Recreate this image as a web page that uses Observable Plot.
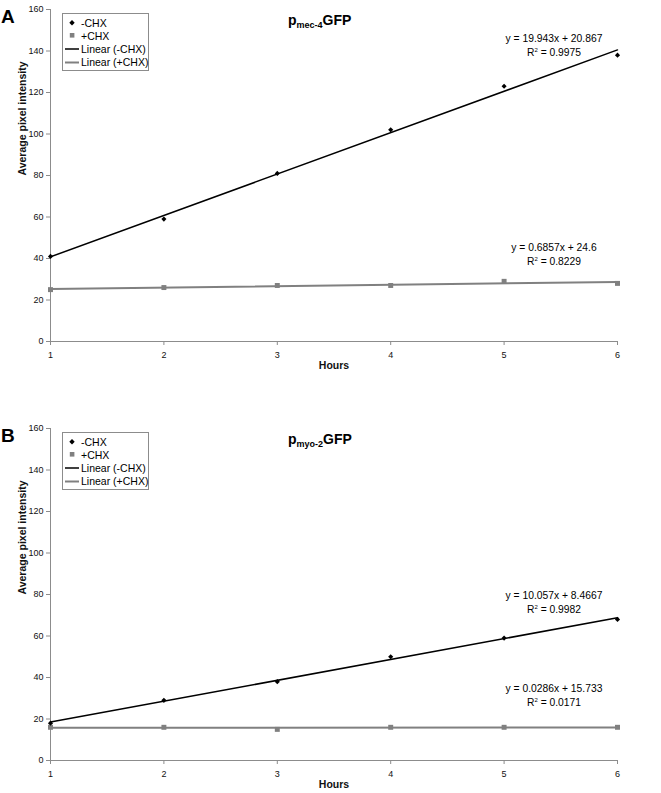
<!DOCTYPE html>
<html><head><meta charset="utf-8">
<script src="https://cdn.jsdelivr.net/npm/d3@7"></script>
<script src="https://cdn.jsdelivr.net/npm/@observablehq/plot@0.6"></script>
<style>
body{margin:0;background:#fff}
#wrap{position:relative;width:661px;height:793px;background:#fff;font-family:'Liberation Sans',Arial,sans-serif}
.abs{position:absolute;left:0}
</style>
</head><body><div id="wrap"></div>
<script>
// ---- data ----
const hours = [1, 2, 3, 4, 5, 6];
const mec4Minus = [41, 59, 81, 102, 123, 138];
const mec4Plus = [25, 26, 27, 27, 29, 28];
const myo2Minus = [18, 29, 38, 50, 59, 68];
const myo2Plus = [16, 16, 15, 16, 16, 16];
const yTicks = [0, 20, 40, 60, 80, 100, 120, 140, 160];
const legendLabels = ["-CHX", "+CHX", "Linear (-CHX)", "Linear (+CHX)"];
const panelLetters = ["A", "B"];
const titleSubs = ["mec-4", "myo-2"];
const eqMinus = ["y = 19.943x + 20.867", "y = 10.057x + 8.4667"];
const r2Minus = ["0.9975", "0.9982"];
const eqPlus = ["y = 0.6857x + 24.6", "y = 0.0286x + 15.733"];
const r2Plus = ["0.8229", "0.0171"];

const FONT = "'Liberation Sans', Arial, sans-serif";
const GRAY = "#808080";
const AXIS = "#8c8c8c";

function chart(minus, plus, height, marginBottom) {
  const rm = hours.map((h, i) => ({hour: h, value: minus[i]}));
  const rp = hours.map((h, i) => ({hour: h, value: plus[i]}));
  return Plot.plot({
    width: 661, height,
    marginLeft: 50, marginRight: 44, marginTop: 9, marginBottom,
    x: {domain: [1, 6]},
    y: {domain: [0, 160]},
    style: {fontFamily: FONT, fontSize: "9px", background: "transparent", overflow: "visible", color: "#111"},
    marks: [
      Plot.ruleY([0], {stroke: AXIS}),
      Plot.ruleX([1], {stroke: AXIS}),
      Plot.axisY({ticks: yTicks, tickSize: 4, tickPadding: 3, stroke: AXIS, fill: "#111", label: null, fontSize: 9}),
      Plot.axisX({ticks: hours, tickSize: 4, tickPadding: 6, stroke: AXIS, fill: "#111", label: null, fontSize: 9, tickFormat: d => String(d)}),
      Plot.linearRegressionY(rp, {x: "hour", y: "value", stroke: GRAY, strokeWidth: 2, ci: 0}),
      Plot.linearRegressionY(rm, {x: "hour", y: "value", stroke: "#000", strokeWidth: 1.5, ci: 0}),
      Plot.dot(rp, {x: "hour", y: "value", symbol: "square", r: 2.8, fill: GRAY, stroke: "none"}),
      Plot.dot(rm, {x: "hour", y: "value", symbol: "diamond2", r: 2.3, fill: "#000", stroke: "none"}),
      Plot.text(["Average pixel intensity"], {frameAnchor: "left", dx: -28, rotate: -90, fontWeight: "bold", fontSize: 10.5}),
      Plot.text(["Hours"], {frameAnchor: "bottom", dy: 27, fontWeight: "bold", fontSize: 10.5})
    ]
  });
}

const wrap = document.getElementById("wrap");
const tops = [0, 419];
const heights = [380, 374];
const mbs = [39, 33];
const series = [[mec4Minus, mec4Plus], [myo2Minus, myo2Plus]];
series.forEach(([m, p], i) => {
  const c = chart(m, p, heights[i], mbs[i]);
  c.classList.add("abs");
  c.style.top = tops[i] + "px";
  wrap.appendChild(c);
});

// ---- annotations overlay ----
const ns = "http://www.w3.org/2000/svg";
function panelOverlay(i, y0, eqMinusY, eqPlusY) {
  const lx = 62, ly = y0 + 4;
  return `
  <text x="1" y="${y0 + 14}" font-size="19" font-weight="bold">${panelLetters[i]}</text>
  <text x="288" y="${y0 + 16}" font-size="14" font-weight="bold">p<tspan font-size="9" dy="3">${titleSubs[i]}</tspan><tspan font-size="14" dy="-3">GFP</tspan></text>
  <rect x="${lx + 0.5}" y="${ly + 0.5}" width="86" height="57" fill="#fff" stroke="${AXIS}"/>
  <path d="M72,${ly + 7} l2.7,2.7 l-2.7,2.7 l-2.7,-2.7 z" fill="#000"/>
  <text x="81" y="${ly + 13.5}" font-size="10.5">${legendLabels[0]}</text>
  <rect x="69.8" y="${ly + 20}" width="4.6" height="4.6" fill="${GRAY}"/>
  <text x="81" y="${ly + 26.5}" font-size="10.5">${legendLabels[1]}</text>
  <line x1="65" x2="79" y1="${ly + 36}" y2="${ly + 36}" stroke="#000" stroke-width="1.5"/>
  <text x="81" y="${ly + 39.8}" font-size="10.5">${legendLabels[2]}</text>
  <line x1="65" x2="79" y1="${ly + 49.5}" y2="${ly + 49.5}" stroke="${GRAY}" stroke-width="2"/>
  <text x="81" y="${ly + 53.3}" font-size="10.5">${legendLabels[3]}</text>
  <text x="554" y="${eqMinusY}" font-size="10.3" text-anchor="middle">${eqMinus[i]}</text>
  <text x="554" y="${eqMinusY + 14}" font-size="10.3" text-anchor="middle">R<tspan font-size="6" dy="-4">2</tspan><tspan dy="4"> = ${r2Minus[i]}</tspan></text>
  <text x="554" y="${eqPlusY}" font-size="10.3" text-anchor="middle">${eqPlus[i]}</text>
  <text x="554" y="${eqPlusY + 14}" font-size="10.3" text-anchor="middle">R<tspan font-size="6" dy="-4">2</tspan><tspan dy="4"> = ${r2Plus[i]}</tspan></text>`;
}
const ov = document.createElementNS(ns, "svg");
ov.setAttribute("width", 661);
ov.setAttribute("height", 793);
ov.setAttribute("class", "abs");
ov.style.top = "0px";
ov.style.fontFamily = FONT;
ov.innerHTML = panelOverlay(0, 9, 42, 251) + panelOverlay(1, 428, 599, 692);
wrap.appendChild(ov);
</script>
</body></html>
